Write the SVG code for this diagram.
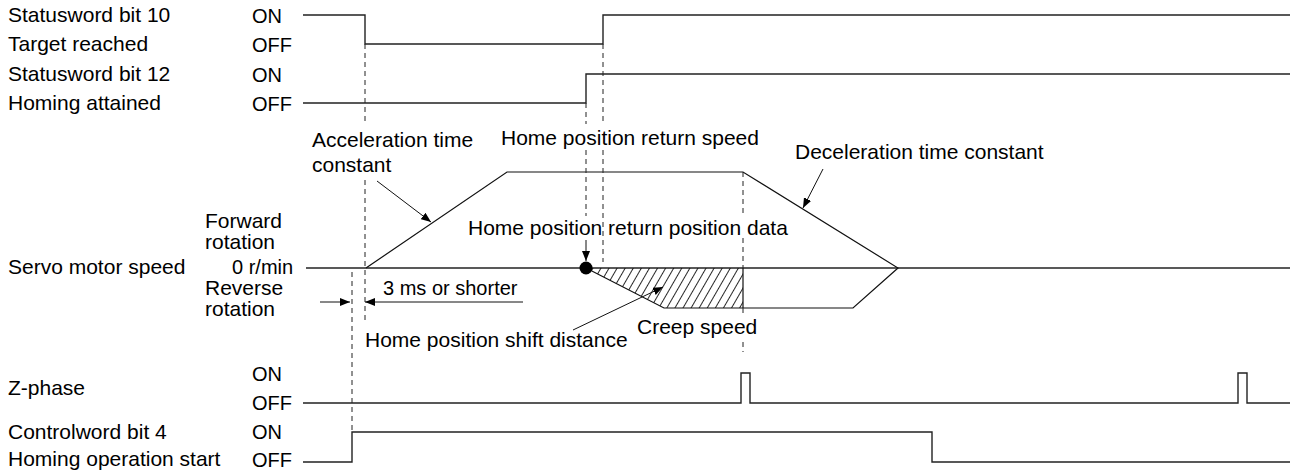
<svg xmlns="http://www.w3.org/2000/svg" width="1298" height="471" viewBox="0 0 1298 471">
<style>
  text { font-family: "Liberation Sans", Arial, sans-serif; fill: #000; }
  .lb { font-size: 21px; }
  .sm { font-size: 20px; }
  .sig { fill: none; stroke: #222; stroke-width: 1.4; }
  .dash { fill: none; stroke: #222; stroke-width: 1; stroke-dasharray: 5 4; }
  .ln { fill: none; stroke: #111; stroke-width: 1.2; }
  .arr { fill: none; stroke: #111; stroke-width: 1; marker-end: url(#ah); }
</style>
<defs>
  <marker id="ah" markerUnits="userSpaceOnUse" markerWidth="10" markerHeight="8" refX="10" refY="4" orient="auto">
    <path d="M0,0 L10,4 L0,8 Z" fill="#000"/>
  </marker>
  <pattern id="hatch" patternUnits="userSpaceOnUse" width="7" height="7" patternTransform="rotate(30)">
    <line x1="3.5" y1="0" x2="3.5" y2="7" stroke="#111" stroke-width="0.9"/>
  </pattern>
</defs>

<g id="labels">
  <text class="lb" x="8" y="22">Statusword bit 10</text>
  <text class="lb" x="8" y="51">Target reached</text>
  <text class="lb" x="8" y="81">Statusword bit 12</text>
  <text class="lb" x="8" y="110">Homing attained</text>
  <text class="lb" x="8" y="274">Servo motor speed</text>
  <text class="lb" x="8" y="395">Z-phase</text>
  <text class="lb" x="8" y="439">Controlword bit 4</text>
  <text class="lb" x="8" y="466">Homing operation start</text>

  <text class="sm" x="252" y="23">ON</text>
  <text class="sm" x="252" y="52">OFF</text>
  <text class="sm" x="252" y="82">ON</text>
  <text class="sm" x="252" y="111">OFF</text>
  <text class="sm" x="252" y="381">ON</text>
  <text class="sm" x="252" y="410">OFF</text>
  <text class="sm" x="252" y="439">ON</text>
  <text class="sm" x="252" y="467">OFF</text>

  <text class="lb" x="205" y="228">Forward</text>
  <text class="lb" x="205" y="249">rotation</text>
  <text class="sm" x="232" y="274">0 r/min</text>
  <text class="lb" x="205" y="295">Reverse</text>
  <text class="lb" x="205" y="316">rotation</text>
</g>

<g id="sig-statusword10">
  <polyline class="sig" points="303,15 365,15 365,44 603,44 603,15 1290,15"/>
</g>
<g id="sig-statusword12">
  <polyline class="sig" points="303,103 586,103 586,74 1290,74"/>
</g>
<g id="sig-speed">
  <line class="sig" x1="306" y1="268" x2="1290" y2="268"/>
  <polygon points="586,268 743,268 743,308 664,308" fill="url(#hatch)" stroke="none"/>
  <polyline class="ln" points="366,268 507,172 743,172 898,268 853,308 664,308 586,268"/>
  <line class="ln" x1="743" y1="268" x2="743" y2="308"/>
  <circle cx="586" cy="268" r="6.5" fill="#000"/>
</g>
<g id="sig-zphase">
  <polyline class="sig" points="303,403 741,403 741,373 750,373 750,403 1238,403 1238,373 1247,373 1247,403 1290,403"/>
</g>
<g id="sig-controlword4">
  <polyline class="sig" points="303,462 352,462 352,432 932,432 932,462 1290,462"/>
</g>

<g id="connectors">
  <line class="dash" x1="365" y1="44" x2="365" y2="123"/>
  <line class="dash" x1="365" y1="180" x2="365" y2="321"/>
  <line class="dash" x1="352" y1="272" x2="352" y2="432"/>
  <line class="dash" x1="586" y1="103" x2="586" y2="124"/>
  <line class="dash" x1="586" y1="150" x2="586" y2="216"/>
  <line class="dash" x1="603" y1="44" x2="603" y2="124"/>
  <line class="dash" x1="603" y1="150" x2="603" y2="262"/>
  <line class="dash" x1="743" y1="172" x2="743" y2="217"/>
  <line class="dash" x1="743" y1="238" x2="743" y2="268"/>
  <line class="dash" x1="743" y1="308" x2="743" y2="316"/>
  <line class="dash" x1="743" y1="342" x2="743" y2="352"/>

  <line class="arr" x1="377" y1="181" x2="431" y2="222"/>
  <line class="arr" x1="823" y1="169" x2="803" y2="208"/>
  <line class="arr" x1="586" y1="240" x2="586" y2="261"/>
  <line class="arr" x1="573" y1="330" x2="663" y2="287"/>

  <line class="arr" x1="320" y1="302" x2="350" y2="302"/>
  <line class="arr" x1="523" y1="302" x2="365" y2="302"/>
</g>

<g id="annotations">
  <text class="lb" x="312" y="147">Acceleration time</text>
  <text class="lb" x="312" y="172">constant</text>
  <text class="lb" x="501" y="145">Home position return speed</text>
  <text class="lb" x="795" y="159">Deceleration time constant</text>
  <text class="lb" x="468" y="235">Home position return position data</text>
  <text class="sm" x="383" y="295">3 ms or shorter</text>
  <text class="lb" x="637" y="334">Creep speed</text>
  <text class="lb" x="365" y="347">Home position shift distance</text>
</g>
</svg>
